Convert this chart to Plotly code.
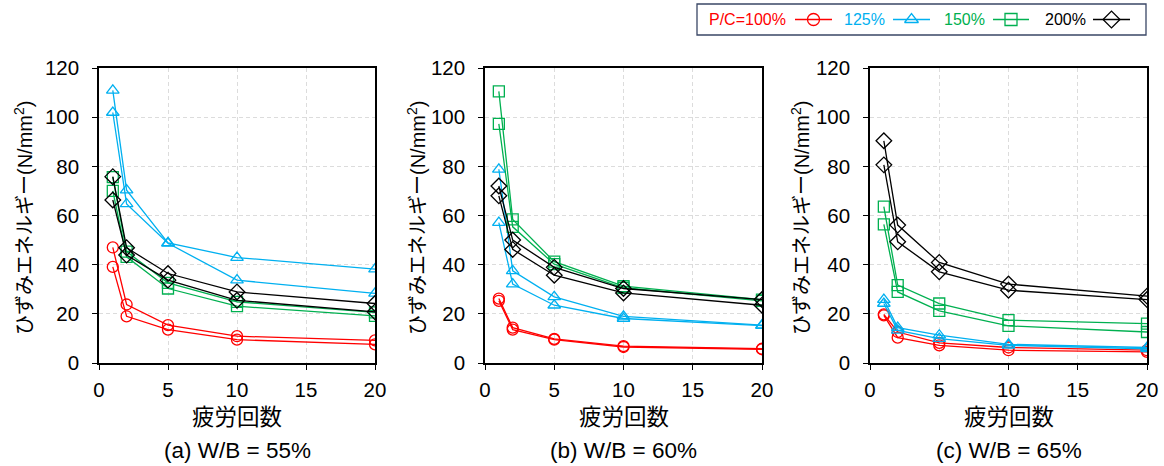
import plotly.graph_objects as go

W, H = 1164, 466

cycles = [1, 2, 5, 10, 20]

# (a) W/B = 55%
a_100_hi = [47.0, 23.8, 15.4, 10.9, 9.2]
a_100_lo = [39.1, 19.0, 13.6, 9.5, 7.6]
a_125_hi = [110.9, 70.3, 48.9, 42.9, 38.2]
a_125_lo = [101.9, 64.7, 48.7, 33.7, 28.3]
a_150_hi = [75.6, 45.3, 32.6, 24.9, 20.6]
a_150_lo = [70.0, 43.2, 30.3, 23.1, 19.2]
a_200_hi = [75.8, 46.9, 36.4, 28.9, 24.2]
a_200_lo = [66.3, 43.9, 33.7, 25.5, 20.8]

# (b) W/B = 60%
b_100_hi = [26.2, 14.4, 9.8, 6.9, 5.8]
b_100_lo = [25.3, 13.6, 9.5, 6.5, 5.6]
b_125_hi = [78.8, 37.5, 26.9, 19.0, 15.4]
b_125_lo = [57.1, 32.1, 23.5, 18.1, 15.2]
b_150_hi = [110.5, 58.4, 41.2, 31.3, 25.8]
b_150_lo = [97.3, 55.4, 40.2, 30.6, 25.3]
b_200_hi = [72.0, 50.0, 38.9, 30.3, 25.8]
b_200_lo = [68.0, 46.2, 35.7, 28.5, 23.5]

# (c) W/B = 65%
c_100_hi = [19.8, 12.6, 8.2, 6.3, 5.2]
c_100_lo = [19.4, 10.3, 7.2, 5.2, 4.5]
c_125_hi = [25.8, 14.4, 11.3, 7.6, 6.3]
c_125_lo = [24.2, 13.3, 9.9, 7.2, 5.8]
c_150_hi = [63.6, 31.7, 24.2, 17.4, 16.0]
c_150_lo = [56.4, 28.9, 21.2, 15.1, 12.6]
c_200_hi = [90.4, 56.1, 40.9, 32.1, 27.2]
c_200_lo = [80.6, 49.3, 37.1, 29.6, 25.8]

pc_labels = ["P/C=100%", "125%", "150%", "200%"]
captions = ["(a) W/B = 55%", "(b) W/B = 60%", "(c) W/B = 65%"]
x_title = "疲労回数"
y_title = "ひずみエネルギー(N/mm<sup>2</sup>)"
x_ticks = [0, 5, 10, 15, 20]
y_ticks = [0, 20, 40, 60, 80, 100, 120]

panels = [
    [(a_100_hi, a_100_lo), (a_125_hi, a_125_lo), (a_150_hi, a_150_lo), (a_200_hi, a_200_lo)],
    [(b_100_hi, b_100_lo), (b_125_hi, b_125_lo), (b_150_hi, b_150_lo), (b_200_hi, b_200_lo)],
    [(c_100_hi, c_100_lo), (c_125_hi, c_125_lo), (c_150_hi, c_150_lo), (c_200_hi, c_200_lo)],
]

colors = ["#ff0000", "#00b0f0", "#00b050", "#000000"]
symbols = ["circle-open", "triangle-up-open", "square-open", "diamond-open"]
msizes = [11, 11, 11, 12]

FONT = "Liberation Sans, Arial, Noto Sans CJK JP, sans-serif"

# layout geometry (pixels)
plot_left = [99, 485, 870]
plot_right = [375, 762, 1147]
plot_top, plot_bottom = 68, 363
ytitle_x = [23, 416, 800]

fig = go.Figure()

for p, series in enumerate(panels):
    ax = "" if p == 0 else str(p + 1)
    for s, (hi, lo) in enumerate(series):
        for vals in (lo, hi):
            fig.add_trace(go.Scatter(
                x=cycles, y=vals, mode="lines+markers",
                xaxis="x" + ax, yaxis="y" + ax,
                line=dict(color=colors[s], width=1.3),
                marker=dict(symbol=symbols[s], size=msizes[s], color=colors[s],
                            line=dict(width=1.3, color=colors[s])),
                showlegend=False, hoverinfo="x+y"))

axis_common = dict(
    showline=True, linecolor="black", linewidth=1.5, mirror=True,
    ticks="outside", ticklen=5, tickwidth=1.3, tickcolor="black",
    showgrid=True, gridcolor="#dcdcdc", gridwidth=1, griddash="4px,3px",
    zeroline=False, automargin=False,
    tickfont=dict(family=FONT, size=20.5, color="black"),
)

layout = dict(
    width=W, height=H, margin=dict(l=0, r=0, t=0, b=0),
    paper_bgcolor="white", plot_bgcolor="white",
    font=dict(family=FONT, color="black"),
    showlegend=False,
)

ydom = [1 - plot_bottom / H, 1 - plot_top / H]
annotations = []
for p in range(3):
    ax = "" if p == 0 else str(p + 1)
    layout["xaxis" + ax] = dict(axis_common, domain=[plot_left[p] / W, plot_right[p] / W],
                                range=[0, 20], tickvals=x_ticks, anchor="y" + ax,
                                ticklabelstandoff=3)
    layout["yaxis" + ax] = dict(axis_common, domain=ydom, range=[0, 120],
                                tickvals=y_ticks, anchor="x" + ax, ticklabelstandoff=9)
    cx = (plot_left[p] + plot_right[p]) / 2 / W
    annotations.append(dict(text=x_title, x=cx, y=1 - 417 / H, xref="paper", yref="paper",
                            showarrow=False, xanchor="center", yanchor="middle",
                            font=dict(family=FONT, size=22.5, color="black")))
    annotations.append(dict(text=captions[p], x=cx, y=1 - 450 / H, xref="paper", yref="paper",
                            showarrow=False, xanchor="center", yanchor="middle",
                            font=dict(family=FONT, size=22.5, color="black")))
    annotations.append(dict(text=y_title, x=ytitle_x[p] / W, y=1 - 218 / H, xref="paper",
                            yref="paper", showarrow=False, textangle=-90,
                            xanchor="center", yanchor="middle",
                            font=dict(family=FONT, size=20, color="black")))

# custom legend (text before symbol) on its own pixel-scaled axes
leg_x0, leg_x1, leg_y0, leg_y1 = 697, 1146, 4, 35
layout["xaxis4"] = dict(domain=[leg_x0 / W, leg_x1 / W], range=[leg_x0, leg_x1], visible=False,
                        fixedrange=True, anchor="y4")
layout["yaxis4"] = dict(domain=[1 - leg_y1 / H, 1 - leg_y0 / H], range=[leg_y1, leg_y0],
                        visible=False, fixedrange=True, anchor="x4")
leg_cy = 19.5
leg_text_right = [788, 887, 987, 1088]
leg_line = [(795, 832), (893, 930), (993, 1029), (1093, 1130)]
for s in range(4):
    x0, x1 = leg_line[s]
    fig.add_trace(go.Scatter(x=[x0, x1], y=[leg_cy, leg_cy], mode="lines", xaxis="x4", yaxis="y4",
                             line=dict(color=colors[s], width=1.3), showlegend=False,
                             hoverinfo="skip"))
    fig.add_trace(go.Scatter(x=[(x0 + x1) / 2], y=[leg_cy], mode="markers", xaxis="x4", yaxis="y4",
                             marker=dict(symbol=symbols[s], size=msizes[s] + 1, color=colors[s],
                                         line=dict(width=1.3, color=colors[s])),
                             showlegend=False, hoverinfo="skip"))
    annotations.append(dict(text=pc_labels[s], x=leg_text_right[s], y=leg_cy, xref="x4", yref="y4",
                            showarrow=False, xanchor="right", yanchor="middle",
                            font=dict(family=FONT, size=16, color=colors[s])))

layout["shapes"] = [dict(type="rect", xref="paper", yref="paper",
                         x0=leg_x0 / W, x1=leg_x1 / W, y0=1 - leg_y1 / H, y1=1 - leg_y0 / H,
                         line=dict(color="#3a4766", width=1.3), fillcolor="rgba(0,0,0,0)")]
layout["annotations"] = annotations

fig.update_layout(**layout)
fig.write_html("out.html")
